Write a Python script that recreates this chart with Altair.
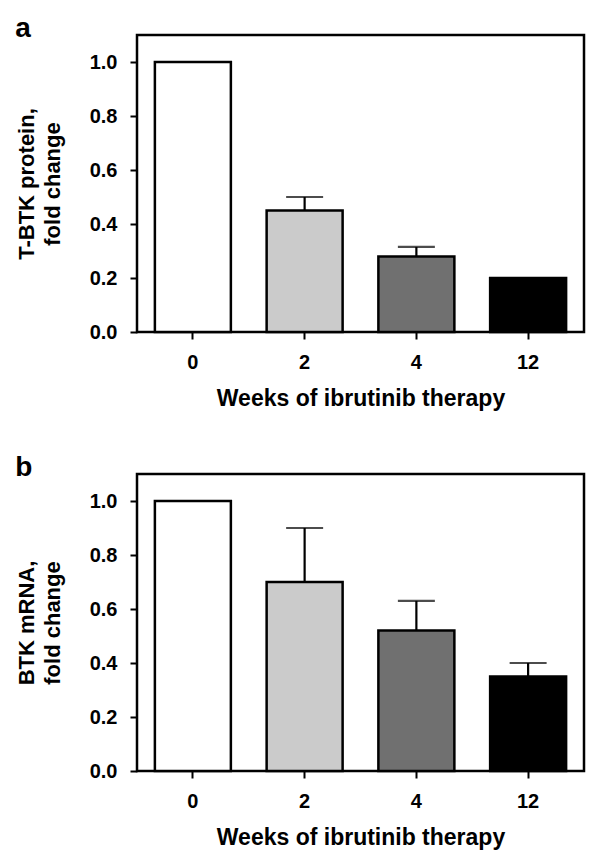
import altair as alt
import pandas as pd

weeks = ["0", "2", "4", "12"]
fills = ["#ffffff", "#cbcbcb", "#707070", "#000000"]

protein = [1.00, 0.45, 0.28, 0.20]
protein_upper = [1.00, 0.50, 0.315, 0.20]

mrna = [1.00, 0.70, 0.52, 0.35]
mrna_upper = [1.00, 0.90, 0.63, 0.40]

y_ticks = [0.0, 0.2, 0.4, 0.6, 0.8, 1.0]

FONT = "Liberation Sans"


def panel(values, uppers, ytitle, letter):
    df = pd.DataFrame({"week": weeks, "value": values, "upper": uppers})
    df["has_err"] = df["upper"] > df["value"] + 1e-9

    x = alt.X(
        "week:N",
        sort=weeks,
        scale=alt.Scale(paddingInner=0.32, paddingOuter=0.16),
        axis=alt.Axis(title="Weeks of ibrutinib therapy", labelAngle=0,
                      labelPadding=13, titlePadding=15, titleFontSize=23),
    )
    y_scale = alt.Scale(domain=[0, 1.1], nice=False, zero=True)
    y = alt.Y(
        "value:Q",
        scale=y_scale,
        axis=alt.Axis(title=ytitle, values=y_ticks, format=".1f",
                      labelPadding=13, titlePadding=25, titleLineHeight=26),
    )
    base = alt.Chart(df)
    err = base.transform_filter("datum.has_err").mark_rule(
        color="black", strokeWidth=2.2
    ).encode(x=x, y=y, y2="upper:Q")
    cap = base.transform_filter("datum.has_err").mark_tick(
        color="black", thickness=2.2, size=37, orient="horizontal"
    ).encode(x=x, y=alt.Y("upper:Q", scale=y_scale))
    bars = base.mark_bar(stroke="black", strokeWidth=2.5).encode(
        x=x,
        y=y,
        fill=alt.Fill("week:N", sort=weeks,
                      scale=alt.Scale(domain=weeks, range=fills), legend=None),
    )
    return alt.layer(err, cap, bars).properties(
        width=447,
        height=297,
        title=alt.TitleParams(letter, anchor="start", frame="bounds",
                              fontSize=28, font=FONT, fontWeight="bold",
                              offset=-8, color="black"),
    )


chart = alt.vconcat(
    panel(protein, protein_upper, ["T-BTK protein,", "fold change"], "a"),
    panel(mrna, mrna_upper, ["BTK mRNA,", "fold change"], "b"),
    spacing=40,
).configure_axis(
    labelFont=FONT, labelFontWeight="bold", labelFontSize=20, labelColor="black",
    titleFont=FONT, titleFontWeight="bold", titleFontSize=22, titleColor="black",
    grid=False, domain=False, tickColor="black", tickWidth=2, tickSize=7,
).configure_view(stroke="black", strokeWidth=2.5).properties(background="white")

chart.save("out.html", embed_options={"renderer": "svg", "actions": False})
